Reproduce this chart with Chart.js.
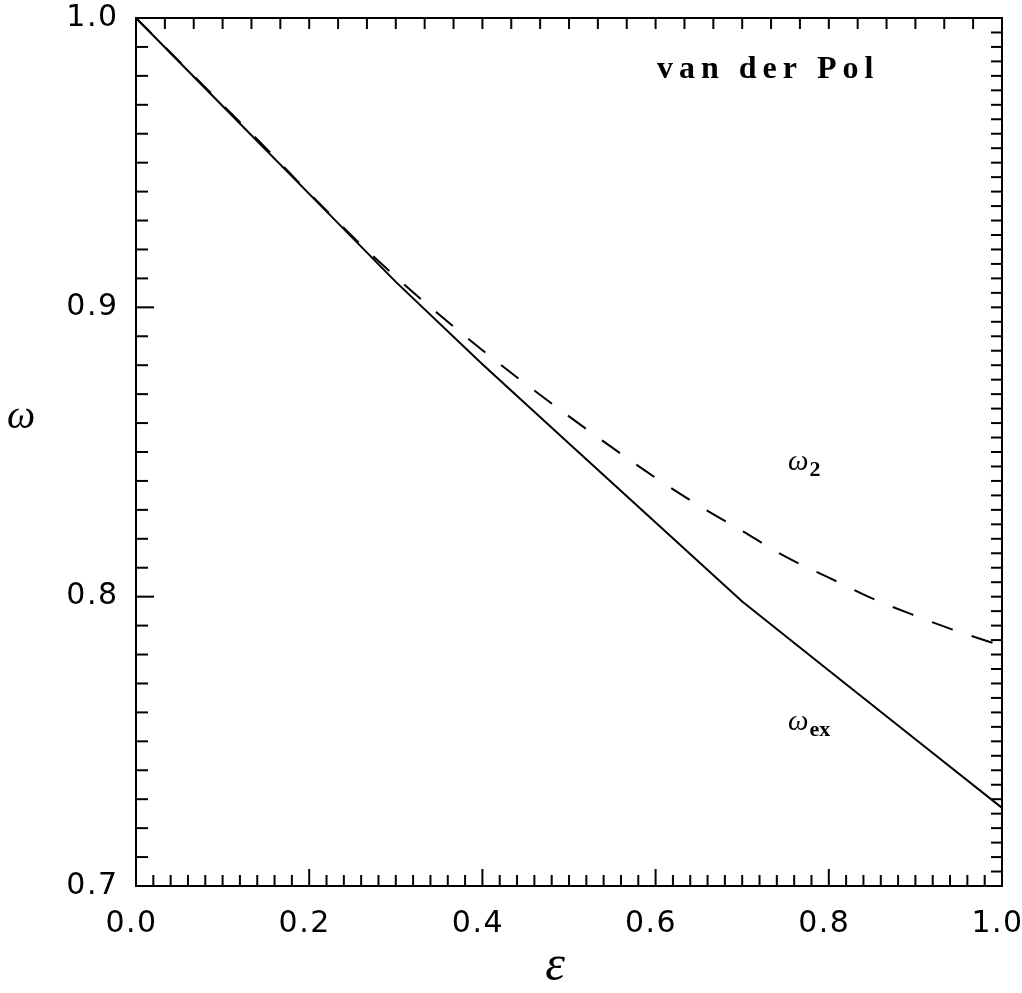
<!DOCTYPE html>
<html><head><meta charset="utf-8">
<script src="https://cdn.jsdelivr.net/npm/chart.js@4/dist/chart.umd.min.js"></script>
<style>html,body{margin:0;padding:0;background:#fff}#wrap{width:1022px;height:993px;position:relative}</style>
</head><body><div id="wrap"><canvas id="c" width="1022" height="993"></canvas></div>
<script>
// ---- data ----
const epsilonEx = [0.0, 0.1, 0.2, 0.3, 0.4, 0.5, 0.6, 0.7, 0.8, 0.9, 1.0];
const omegaEx   = [1.000, 0.9696, 0.9392, 0.9088, 0.8803, 0.8529, 0.8256, 0.7983, 0.7745, 0.7507, 0.727];
const epsilon2  = [0.0, 0.05, 0.10, 0.15, 0.20, 0.25, 0.30, 0.35, 0.40, 0.45, 0.50, 0.55, 0.60, 0.65, 0.70, 0.75, 0.80, 0.85, 0.90, 0.95, 1.00];
const omega2    = [1.000, 0.985, 0.970, 0.955, 0.9395, 0.9245, 0.9105, 0.8975, 0.8852, 0.8735, 0.8623, 0.8515, 0.8411, 0.8315, 0.8227, 0.8138, 0.8066, 0.7994, 0.7934, 0.7879, 0.7830];
const xTickLabels = ['0.0', '0.2', '0.4', '0.6', '0.8', '1.0'];
const yTickLabels = ['0.7', '0.8', '0.9', '1.0'];
const plotTitle = 'van der Pol';
const xAxisTitle = 'ε';
const yAxisTitle = 'ω';
const curveLabels = [
  { main: 'ω', sub: '2',  x: 0.753, y: 0.8438 },
  { main: 'ω', sub: 'ex', x: 0.753, y: 0.7540 }
];

const X_MIN = 0, X_MAX = 1, Y_MIN = 0.7, Y_MAX = 1.0;

function pts(xs, ys) { return xs.map((v, i) => ({ x: v, y: ys[i] })); }

const framePlugin = {
  id: 'framePlugin',
  beforeDraw(chart) { chart.ctx.letterSpacing = '1.5px'; },
  afterDatasetsDraw(chart) {
    const { ctx, chartArea: a, scales: { x, y } } = chart;
    ctx.save();
    ctx.letterSpacing = '0px';
    ctx.strokeStyle = '#000';
    ctx.lineWidth = 2;
    ctx.lineCap = 'butt';
    const seg = (x1, y1, x2, y2) => { ctx.beginPath(); ctx.moveTo(x1, y1); ctx.lineTo(x2, y2); ctx.stroke(); };
    // bottom ticks: minor every 0.02, major every 0.2
    for (let i = 1; i < 50; i++) {
      const px = x.getPixelForValue(i * 0.02);
      seg(px, a.bottom, px, a.bottom - (i % 10 === 0 ? 17 : 11));
    }
    // top ticks: every 1/30
    for (let i = 1; i < 30; i++) {
      const px = x.getPixelForValue(i / 30);
      seg(px, a.top, px, a.top + 11);
    }
    // left ticks: minor every 0.01, major every 0.1
    for (let i = 1; i < 30; i++) {
      const py = y.getPixelForValue(Y_MIN + i * 0.01);
      seg(a.left, py, a.left + (i % 10 === 0 ? 18 : 12), py);
    }
    // right ticks: every 0.005
    for (let i = 1; i < 60; i++) {
      const py = y.getPixelForValue(Y_MIN + i * 0.005);
      seg(a.right, py, a.right - 11, py);
    }
    ctx.strokeRect(a.left, a.top, a.right - a.left, a.bottom - a.top);

    ctx.fillStyle = '#000';
    ctx.textBaseline = 'alphabetic';
    // title
    ctx.font = 'bold 32px "Liberation Serif"';
    ctx.letterSpacing = '6px';
    ctx.textAlign = 'left';
    ctx.fillText(plotTitle, x.getPixelForValue(0.6016), y.getPixelForValue(0.9794));
    ctx.letterSpacing = '0px';
    // curve labels
    curveLabels.forEach(l => {
      const px = x.getPixelForValue(l.x), py = y.getPixelForValue(l.y);
      ctx.font = 'italic 29px "Liberation Serif"';
      ctx.fillText(l.main, px, py);
      const w = ctx.measureText(l.main).width;
      ctx.font = 'bold 22px "Liberation Serif"';
      ctx.fillText(l.sub, px + w + 1, py + 6);
    });
    // axis titles
    ctx.font = 'italic 40px "Liberation Serif"';
    ctx.textAlign = 'left';
    ctx.fillText(yAxisTitle, 7, 428);
    ctx.font = 'italic 50px "Liberation Serif"';
    ctx.textAlign = 'center';
    ctx.fillText(xAxisTitle, (a.left + a.right) / 2 - 14, 980);
    ctx.restore();
  },
  afterDraw(chart) { chart.ctx.letterSpacing = '0px'; }
};

new Chart(document.getElementById('c'), {
  type: 'line',
  data: {
    datasets: [
      { label: 'omega_ex', data: pts(epsilonEx, omegaEx), borderColor: '#000', borderWidth: 2, pointRadius: 0, tension: 0, fill: false },
      { label: 'omega_2', data: pts(epsilon2, omega2), borderColor: '#000', borderWidth: 2, borderDash: [22, 20], pointRadius: 0, cubicInterpolationMode: 'monotone', fill: false }
    ]
  },
  options: {
    responsive: false,
    devicePixelRatio: 1,
    animation: false,
    events: [],
    layout: { padding: { top: 18, right: 20, left: 0, bottom: 0 } },
    plugins: { legend: { display: false }, tooltip: { enabled: false }, title: { display: false } },
    scales: {
      x: {
        type: 'linear', min: X_MIN, max: X_MAX,
        grid: { display: false, drawTicks: false, tickLength: 0 },
        border: { display: false },
        ticks: {
          stepSize: 0.2, color: '#000', padding: 20, labelOffset: -4.5, maxRotation: 0,
          font: { family: 'DejaVu Sans', size: 30 },
          callback: (v, i) => xTickLabels[i]
        },
        afterFit: s => { s.height = 107; s.paddingLeft = 0; s.paddingRight = 0; }
      },
      y: {
        type: 'linear', min: Y_MIN, max: Y_MAX,
        grid: { display: false, drawTicks: false, tickLength: 0 },
        border: { display: false },
        ticks: {
          stepSize: 0.1, color: '#000', padding: 17.5,
          font: { family: 'DejaVu Sans', size: 30 },
          callback: (v, i) => yTickLabels[i]
        },
        afterFit: s => { s.width = 136; s.paddingTop = 0; s.paddingBottom = 0; }
      }
    }
  },
  plugins: [framePlugin]
});
</script></body></html>
